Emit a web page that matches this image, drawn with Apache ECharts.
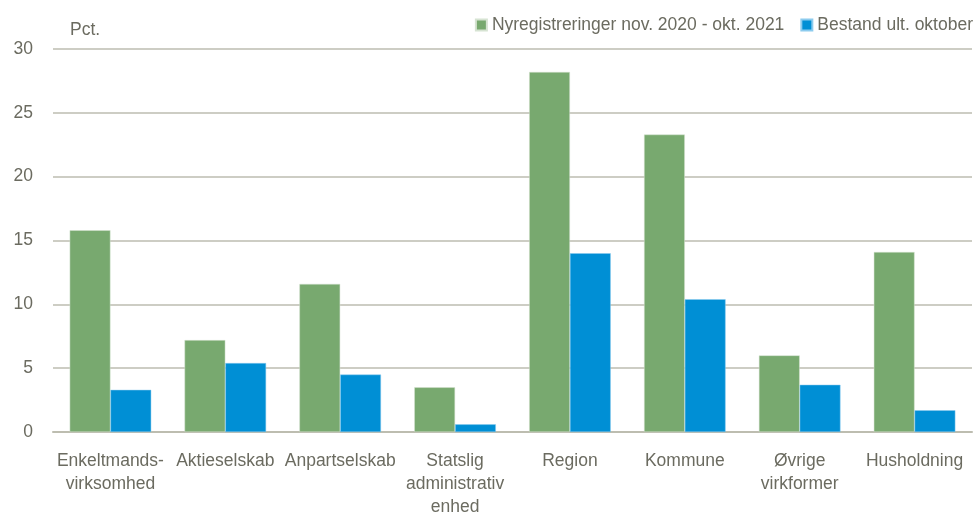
<!DOCTYPE html>
<html>
<head>
<meta charset="utf-8">
<script src="https://cdn.jsdelivr.net/npm/echarts@6/dist/echarts.min.js"></script>
<style>
  html, body { margin: 0; padding: 0; background: #fff; }
  #chart { width: 973px; height: 514px; }
</style>
</head>
<body>
<div id="chart"></div>
<script>
// virksomhedsformer
var categories = ['Enkeltmands-\nvirksomhed', 'Aktieselskab', 'Anpartselskab', 'Statslig\nadministrativ\nenhed', 'Region', 'Kommune', 'Øvrige\nvirkformer', 'Husholdning'];
var nyreg = [15.8, 7.2, 11.6, 3.5, 28.2, 23.3, 6.0, 14.1];
var bestand = [3.3, 5.4, 4.5, 0.6, 14.0, 10.4, 3.7, 1.7];
var seriesNames = ['Nyregistreringer nov. 2020 - okt. 2021', 'Bestand ult. oktober'];

var font = "'Liberation Sans Narrow', 'Arial Narrow', 'Liberation Sans', Arial, sans-serif";
var txt = '#6b6b60';

var myChart = echarts.init(document.getElementById('chart'));

var option = {
    animation: false,
    textStyle: { fontFamily: font },
    title: {
        text: 'Pct.',
        left: 65,
        top: 16,
        textStyle: { color: txt, fontSize: 17.5, fontWeight: 'normal', fontFamily: font }
    },
    legend: {
        right: 0,
        top: 16,
        padding: 0,
        itemWidth: 11,
        itemHeight: 11,
        itemGap: 16,
        icon: 'rect',
        selectedMode: false,
        textStyle: { color: txt, fontSize: 17.5, fontFamily: font },
        data: seriesNames
    },
    grid: {
        left: 53,
        right: 1,
        top: 49,
        bottom: 82,
        outerBoundsMode: 'none'
    },
    xAxis: {
        type: 'category',
        data: categories,
        axisTick: { show: false },
        axisLine: { lineStyle: { color: '#bdbdb0', width: 2 } },
        axisLabel: {
            color: txt,
            fontSize: 17.5,
            fontFamily: font,
            margin: 18,
            lineHeight: 23,
            interval: 0
        }
    },
    yAxis: {
        type: 'value',
        min: 0,
        max: 30,
        interval: 5,
        axisLine: { show: false },
        axisTick: { show: false },
        splitLine: { lineStyle: { color: '#bdbdb0', width: 1.5 } },
        axisLabel: { color: txt, fontSize: 17.5, fontFamily: font, margin: 20 }
    },
    series: [
        {
            name: seriesNames[0],
            type: 'bar',
            data: nyreg,
            barGap: '0%',
            barCategoryGap: '29%',
            itemStyle: { color: '#78a96f', borderColor: '#d6e3d2', borderWidth: 0.5 }
        },
        {
            name: seriesNames[1],
            type: 'bar',
            data: bestand,
            itemStyle: { color: '#008fd5', borderColor: '#8ccbee', borderWidth: 0.5 }
        }
    ]
};

myChart.setOption(option);
</script>
</body>
</html>
